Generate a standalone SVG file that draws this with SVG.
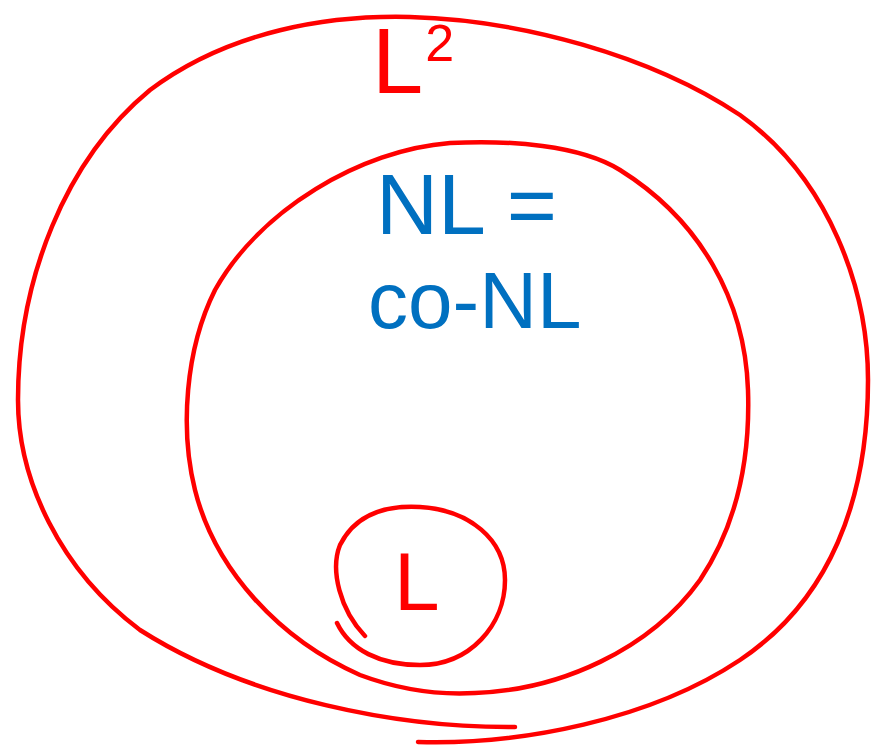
<svg xmlns="http://www.w3.org/2000/svg" width="872" height="751" viewBox="0 0 872 751">
<style>
.ring{fill:none;stroke:#ff0000;stroke-width:4.5;stroke-linecap:round;stroke-linejoin:round}
.red{fill:#ff0000;font-family:"Liberation Sans",Arial,sans-serif}
.blue{fill:#0070c0;font-family:"Liberation Sans",Arial,sans-serif}
</style>
<rect width="872" height="751" fill="#ffffff"/>
<g id="L2-set">
<path class="ring" d="M 515 727 C 400 728, 250 700, 140 630 C 60 570, 18 480, 18 400 C 18 280, 65 160, 150 90 C 230 30, 330 15, 410 17 C 520 20, 650 55, 740 115 C 830 180, 868 290, 868 380 C 868 500, 830 600, 740 660 C 650 720, 520 745, 418 742"/>
<text class="red" x="372" y="93" font-size="92">L<tspan font-size="52" dx="2" dy="-32">2</tspan></text>
</g>
<g id="NL-set">
<path class="ring" d="M 475 693 C 560 690, 650 650, 700 580 C 740 520, 750 450, 748 390 C 745 300, 700 220, 620 170 C 580 145, 510 140, 450 143 C 360 150, 260 210, 215 290 C 185 350, 180 430, 195 490 C 215 570, 280 640, 360 675 C 400 690, 440 695, 475 693"/>
<text class="blue" x="376" y="234" font-size="86">NL =</text>
<text class="blue" x="368" y="328" font-size="80">co-NL</text>
</g>
<g id="L-set">
<path class="ring" d="M 365 636 C 340 610, 330 570, 340 545 C 355 515, 385 505, 420 507 C 470 510, 505 540, 505 580 C 505 625, 470 665, 420 665 C 380 665, 350 650, 337 623"/>
<text class="red" x="394" y="610" font-size="82">L</text>
</g>
</svg>
